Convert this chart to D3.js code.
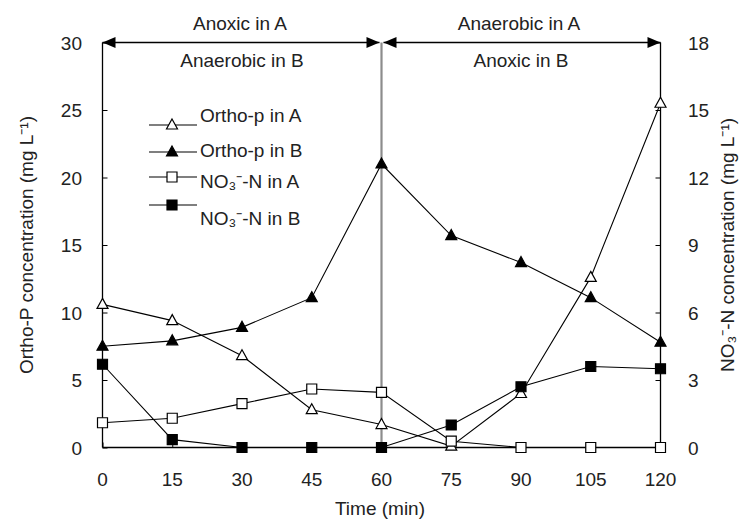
<!DOCTYPE html>
<html><head><meta charset="utf-8">
<script src="https://cdn.jsdelivr.net/npm/d3@7"></script>
<style>body{margin:0;background:#fff}svg{display:block}text{font-family:Arial,"Liberation Sans",sans-serif;fill:#222}</style>
</head><body><svg id="c" width="743" height="523"></svg>
<script>
const times = [0,15,30,45,60,75,90,105,120];
const orthoPA = [10.6,9.4,6.8,2.8,1.7,0.1,4.0,12.6,25.5];
const orthoPB = [7.5,7.9,8.9,11.1,21.0,15.7,13.7,11.1,7.8];
const no3A = [1.1,1.3,1.95,2.6,2.45,0.28,0,0,0];
const no3B = [3.7,0.35,0,0,0,1.0,2.7,3.6,3.5];
const xTicks = [0,15,30,45,60,75,90,105,120];
const leftTicks = [0,5,10,15,20,25,30];
const rightTicks = [0,3,6,9,12,15,18];
const phaseLabels = [["Anoxic in A","Anaerobic in B"],["Anaerobic in A","Anoxic in B"]];
const legendNames = ["Ortho-p in A","Ortho-p in B","NO₃⁻-N in A","NO₃⁻-N in B"];

const svg = d3.select("#c");
const x = d3.scaleLinear().domain([0,120]).range([102.5,660.5]);
const yL = d3.scaleLinear().domain([0,30]).range([447.5,42.5]);
const yR = d3.scaleLinear().domain([0,18]).range([447.5,42.5]);
const FS = 19;

// axes
const ax = svg.append("g").attr("transform","translate(0,447.5)").call(d3.axisTop(x).tickValues(xTicks).tickSize(5).tickFormat(""));
const al = svg.append("g").attr("transform","translate(102.5,0)").call(d3.axisRight(yL).tickValues(leftTicks).tickSize(5).tickFormat(""));
const ar = svg.append("g").attr("transform","translate(660.5,0)").call(d3.axisLeft(yR).tickValues(rightTicks).tickSize(5).tickFormat(""));
[ax,al,ar].forEach(g=>{g.select(".domain").attr("stroke","#000").attr("stroke-width",1.3);g.selectAll(".tick line").attr("stroke","#000");});
ax.select(".domain").attr("d","M102.5,0H660.5");
al.select(".domain").attr("d","M0,447.5V42.5");
ar.select(".domain").attr("d","M0,447.5V42.5");

// tick labels
svg.append("g").selectAll("text").data(xTicks).join("text")
  .attr("x",d=>x(d)).attr("y",486).attr("text-anchor","middle").attr("font-size",FS).text(d=>d);
svg.append("g").selectAll("text").data(leftTicks).join("text")
  .attr("x",82).attr("y",d=>yL(d)+7).attr("text-anchor","end").attr("font-size",FS).text(d=>d);
svg.append("g").selectAll("text").data(rightTicks).join("text")
  .attr("x",688).attr("y",d=>yR(d)+7).attr("text-anchor","start").attr("font-size",FS).text(d=>d);

// axis titles
svg.append("text").attr("x",380).attr("y",515).attr("text-anchor","middle").attr("font-size",FS).text("Time (min)");
svg.append("text").attr("transform","translate(33,245) rotate(-90)").attr("text-anchor","middle").attr("font-size",FS)
  .text("Ortho-P concentration (mg L⁻¹)");
svg.append("text").attr("transform","translate(734,245) rotate(-90)").attr("text-anchor","middle").attr("font-size",FS)
  .text("NO₃⁻-N concentration (mg L⁻¹)");

// phase separator
svg.append("line").attr("x1",x(60)).attr("x2",x(60)).attr("y1",yL(30)).attr("y2",yL(0)).attr("stroke","#8c8c8c").attr("stroke-width",2.2);

// arrows
function arrowHead(tip, dir){
  const L=13,H=5.5;
  svg.append("path").attr("d",`M${tip},${yL(30)}L${tip-dir*L},${yL(30)-H}L${tip-dir*L},${yL(30)+H}Z`).attr("fill","#000");
}
const segs=[[0,60],[60,120]];
segs.forEach((s,i)=>{
  const a=x(s[0])+(i===1?2:0), b=x(s[1])-(i===0?2:0);
  svg.append("line").attr("x1",a).attr("x2",b).attr("y1",yL(30)).attr("y2",yL(30)).attr("stroke","#000").attr("stroke-width",1.5);
  arrowHead(a,-1); arrowHead(b,1);
  const cx=(x(s[0])+x(s[1]))/2;
  svg.append("text").attr("x",cx-2).attr("y",30).attr("text-anchor","middle").attr("font-size",FS).text(phaseLabels[i][0]);
  svg.append("text").attr("x",cx).attr("y",67).attr("text-anchor","middle").attr("font-size",FS).text(phaseLabels[i][1]);
});

// markers
const tri = "M0,-6L5.5,4L-5.5,4Z";
const sq = "M-5,-5H5V5H-5Z";
const series = [
  {vals:orthoPA, y:yL, shape:tri, fill:"#fff"},
  {vals:orthoPB, y:yL, shape:tri, fill:"#000"},
  {vals:no3A, y:yR, shape:sq, fill:"#fff"},
  {vals:no3B, y:yR, shape:sq, fill:"#000"}
];
const line = (ys)=>d3.line().x((d,i)=>x(times[i])).y(d=>ys(d));
series.forEach(s=>{
  svg.append("path").attr("d",line(s.y)(s.vals)).attr("fill","none").attr("stroke","#000").attr("stroke-width",1.1);
});
series.forEach(s=>{
  svg.append("g").selectAll("path").data(s.vals).join("path")
    .attr("transform",(d,i)=>`translate(${x(times[i])},${s.y(d)})`)
    .attr("d",s.shape).attr("fill",s.fill).attr("stroke","#000").attr("stroke-width",1.2);
});

// legend
const legY=[125,152,177,205], legTY=[122,157,188,225];
series.forEach((s,i)=>{
  svg.append("line").attr("x1",149).attr("x2",197).attr("y1",legY[i]).attr("y2",legY[i]).attr("stroke","#000").attr("stroke-width",1.1);
  svg.append("path").attr("transform",`translate(172,${legY[i]})`).attr("d",s.shape).attr("fill",s.fill).attr("stroke","#000").attr("stroke-width",1.2);
  svg.append("text").attr("x",200).attr("y",legTY[i]).attr("font-size",FS).text(legendNames[i]);
});
</script></body></html>
